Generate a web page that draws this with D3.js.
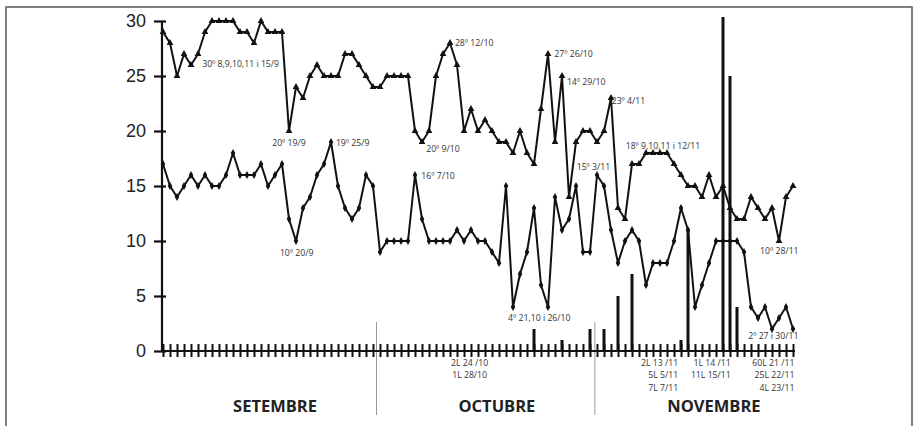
<!DOCTYPE html>
<html>
<head>
<meta charset="utf-8">
<script src="https://cdn.jsdelivr.net/npm/d3@7"></script>
<style>
  body { margin: 0; background: #fff; }
  svg { display: block; }
</style>
</head>
<body>
<svg width="913" height="426"></svg>
<script>
// daily max / min temperatures, 1 Sept .. 30 Nov (index 0..90)
const maxTemp = [29,28,25,27,26,27,29,30,30,30,30,29,29,28,30,29,29,29,20,24,
                 23,25,26,25,25,25,27,27,26,25,24,24,25,25,25,25,20,19,20,25,
                 27,28,26,20,22,20,21,20,19,19,18,20,18,17,22,27,19,25,14,19,
                 20,20,19,20,23,13,12,17,17,18,18,18,18,17,16,15,15,14,16,14,
                 15,13,12,12,14,13,12,13,10,14,15];
const minTemp = [17,15,14,15,16,15,16,15,15,16,18,16,16,16,17,15,16,17,12,10,
                 13,14,16,17,19,15,13,12,13,16,15,9,10,10,10,10,16,12,10,10,
                 10,10,11,10,11,10,10,9,8,15,4,7,9,13,6,4,14,11,12,15,
                 9,9,16,15,11,8,10,11,10,6,8,8,8,10,13,11,4,6,8,10,
                 10,10,10,9,4,3,4,2,3,4,2];
// rain (litres) by day index
const rainDay = [53, 57, 61, 63, 65, 67, 74, 75, 80, 81, 82];
const rainVal = [2, 1, 2, 2, 5, 7, 1, 11, 60, 25, 4];

const yTicks = [0, 5, 10, 15, 20, 25, 30];
const months = ["SETEMBRE", "OCTUBRE", "NOVEMBRE"];
const monthCenter = [16, 47.7, 78.7];
const monthDivider = [30.5, 61.7];

// annotations: [day index, value, text]
const notes = [
  [5.6, 25.8, "30º 8,9,10,11 i 15/9"],
  [15.6, 18.6, "20º 19/9"],
  [16.7, 8.6, "10º 20/9"],
  [24.7, 18.6, "19º 25/9"],
  [37.6, 18.1, "20º 9/10"],
  [36.9, 15.6, "16º 7/10"],
  [41.7, 27.7, "28º 12/10"],
  [55.9, 26.7, "27º 26/10"],
  [57.7, 24.2, "14º 29/10"],
  [64.1, 22.5, "23º 4/11"],
  [59.1, 16.5, "15º 3/11"],
  [66.1, 18.4, "18º 9,10,11 i 12/11"],
  [49.3, 2.7, "4º 21,10 i 26/10"],
  [85.3, 8.8, "10º 28/11"],
  [83.6, 1.1, "2º 27 i 30/11"]
];
// rain labels under the axis: [day index, line, text, anchor]
const rainNotes = [
  [43.8, 0, "2L 24 /10", "middle"], [43.8, 1, "1L 28/10", "middle"],
  [73.6, 0, "2L 13 /11", "end"], [73.6, 1, "5L 5/11", "end"], [73.6, 2, "7L 7/11", "end"],
  [81.1, 0, "1L 14 /11", "end"], [81.1, 1, "11L 15/11", "end"],
  [90.2, 0, "60L 21 /11", "end"], [90.2, 1, "25L 22/11", "end"], [90.2, 2, "4L 23/11", "end"]
];

const svg = d3.select("svg");

// frame
svg.append("rect")
  .attr("x", 6).attr("y", 7).attr("width", 906).attr("height", 430)
  .attr("fill", "none").attr("stroke", "#555").attr("stroke-width", 1.5);

const x = d3.scaleLinear().domain([0, 90]).range([163, 793]);
const y = d3.scaleLinear().domain([0, 30]).range([351, 21]);

// month dividers
svg.selectAll(".div").data(monthDivider).join("line")
  .attr("x1", d => x(d)).attr("x2", d => x(d))
  .attr("y1", 322).attr("y2", 415)
  .attr("stroke", "#999").attr("stroke-width", 1);

// rain bars
svg.append("clipPath").attr("id", "clip")
  .append("rect").attr("x", 150).attr("y", 17).attr("width", 700).attr("height", 340);
svg.append("g").attr("clip-path", "url(#clip)")
  .selectAll("rect").data(rainDay).join("rect")
  .attr("x", (d) => x(d) - 1.5)
  .attr("y", (d, i) => y(rainVal[i]))
  .attr("width", 3)
  .attr("height", (d, i) => y(0) - y(rainVal[i]))
  .attr("fill", "#111");

// y axis
const yAxis = svg.append("g")
  .attr("transform", `translate(162,0)`)
  .call(d3.axisLeft(y).tickValues(yTicks).tickSize(8).tickPadding(8));
yAxis.select(".domain").attr("stroke-width", 2.2).attr("stroke", "#111")
  .attr("d", `M0,${y(30)}V${y(0)}`);
yAxis.selectAll(".tick line").attr("x1", 4).attr("stroke-width", 2.2).attr("stroke", "#111");
yAxis.selectAll(".tick text")
  .attr("font-family", "Liberation Sans, Arial, sans-serif")
  .attr("font-size", 18).attr("fill", "#222");

// x axis
const days = d3.range(0, 91);
const xAxis = svg.append("g")
  .attr("transform", `translate(0,${y(0)})`)
  .call(d3.axisBottom(x).tickValues(days).tickSize(6).tickFormat(""));
xAxis.select(".domain").attr("stroke-width", 2.2).attr("stroke", "#111")
  .attr("d", `M162,0H${x(90) + 2}`);
xAxis.selectAll(".tick line").attr("y1", -7).attr("stroke-width", 2).attr("stroke", "#111");

// temperature lines
const line = d3.line().x((d, i) => x(i)).y(d => y(d));
[maxTemp, minTemp].forEach(series => {
  svg.append("path").datum(series)
    .attr("d", line)
    .attr("fill", "none").attr("stroke", "#111").attr("stroke-width", 2)
    .attr("stroke-linejoin", "round");
});
svg.selectAll(".tri").data(maxTemp).join("path")
  .attr("transform", (d, i) => `translate(${x(i)},${y(d)})`)
  .attr("d", d3.symbol(d3.symbolTriangle, 20))
  .attr("fill", "#111");
svg.selectAll(".dia").data(minTemp).join("path")
  .attr("transform", (d, i) => `translate(${x(i)},${y(d)})`)
  .attr("d", d3.symbol(d3.symbolDiamond, 18))
  .attr("fill", "#111");

// annotations
svg.selectAll(".note").data(notes).join("text")
  .attr("x", d => x(d[0]))
  .attr("y", d => y(d[1]))
  .attr("font-family", "Open Sans, sans-serif")
  .attr("font-size", 8.7).attr("fill", "#333")
  .text(d => d[2]);

svg.selectAll(".rnote").data(rainNotes).join("text")
  .attr("x", d => x(d[0]))
  .attr("y", d => 366 + d[1] * 12.3)
  .attr("text-anchor", d => d[3])
  .attr("font-family", "Open Sans, sans-serif")
  .attr("font-size", 8.7).attr("fill", "#333")
  .text(d => d[2]);

// month names
svg.selectAll(".month").data(months).join("text")
  .attr("x", (d, i) => x(monthCenter[i]))
  .attr("y", 412)
  .attr("text-anchor", "middle")
  .attr("font-family", "Open Sans, sans-serif")
  .attr("font-weight", "bold")
  .attr("font-size", 16.5).attr("fill", "#222")
  .text(d => d);
</script>
</body>
</html>
